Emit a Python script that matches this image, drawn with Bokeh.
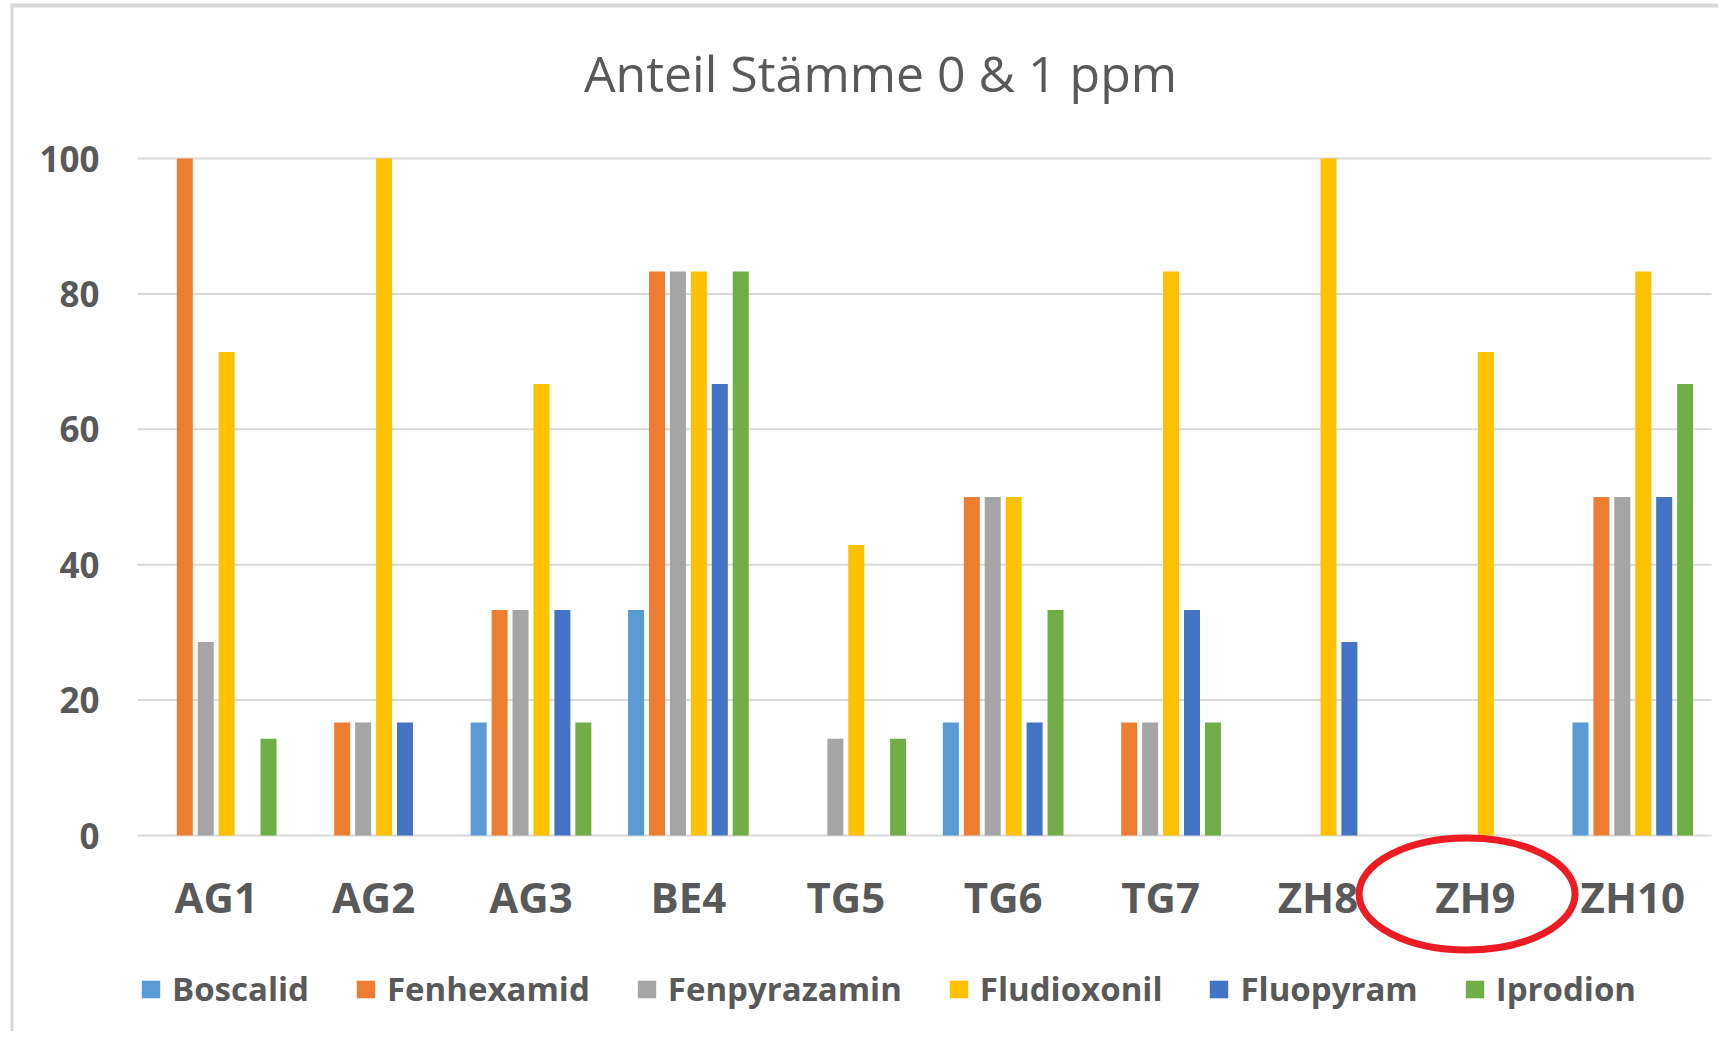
import numpy as np
from bokeh.plotting import figure
from bokeh.models import ColumnDataSource, Range1d, Legend, LegendItem
from bokeh.core.properties import value
from bokeh.embed import file_html
from bokeh.resources import INLINE

# ---- data ----
sites = ["AG1", "AG2", "AG3", "BE4", "TG5", "TG6", "TG7", "ZH8", "ZH9", "ZH10"]
series = ["Boscalid", "Fenhexamid", "Fenpyrazamin", "Fludioxonil", "Fluopyram", "Iprodion"]
boscalid     = [0, 0, 16.7, 33.3, 0, 16.7, 0, 0, 0, 16.7]
fenhexamid   = [100, 16.7, 33.3, 83.3, 0, 50, 16.7, 0, 0, 50]
fenpyrazamin = [28.6, 16.7, 33.3, 83.3, 14.3, 50, 16.7, 0, 0, 50]
fludioxonil  = [71.4, 100, 66.7, 83.3, 42.9, 50, 83.3, 100, 71.4, 83.3]
fluopyram    = [0, 16.7, 33.3, 66.7, 0, 16.7, 33.3, 28.6, 0, 50]
iprodion     = [14.3, 0, 16.7, 83.3, 14.3, 33.3, 16.7, 0, 0, 66.7]
y_ticks = [0, 20, 40, 60, 80, 100]
y_tick_labels = ["0", "20", "40", "60", "80", "100"]
title_text = "Anteil Stämme 0 & 1 ppm"
highlight = "ZH9"

colors = ["#5B9BD5", "#ED7D31", "#A5A5A5", "#FFC000", "#4472C4", "#70AD47"]
values = [boscalid, fenhexamid, fenpyrazamin, fludioxonil, fluopyram, iprodion]

# ---- layout geometry (pixels) ----
W, H = 1718, 1031
PX_X = 157.4          # pixels per category
PX_Y = 6.77           # pixels per y unit
LEFT, ZERO_Y, TOP_Y = 137, 835, 158

x_start = -LEFT / PX_X
x_end = (W - LEFT) / PX_X
y_start = -(H - ZERO_Y) / PX_Y
y_end = 100 + TOP_Y / PX_Y

p = figure(x_range=Range1d(x_start, x_end), y_range=Range1d(y_start, y_end),
           width=W, height=H, output_backend="svg", toolbar_location=None,
           x_axis_location=None, y_axis_location=None,
           min_border=0, min_border_left=0, min_border_right=0,
           min_border_top=0, min_border_bottom=0)
p.outline_line_color = None
p.background_fill_color = "white"
p.border_fill_color = "white"
p.xgrid.visible = False
p.ygrid.visible = False

n = len(sites)
centers = np.arange(n) + 0.5
FONT = value("Open Sans")
GRAY_TXT = "#595959"
GRID = "#D9D9D9"

# gridlines (including baseline)
p.segment(x0=[0] * len(y_ticks), x1=[n] * len(y_ticks), y0=y_ticks, y1=y_ticks,
          line_color=GRID, line_width=2)

# bars
pitch = 0.1330
bw = 0.1017
items = []
for i, (name, col, vals) in enumerate(zip(series, colors, values)):
    off = (i - 2.5) * pitch
    src = ColumnDataSource(dict(x=centers + off, top=vals))
    r = p.vbar(x="x", top="top", width=bw, source=src, fill_color=col, line_color=None)
    items.append(LegendItem(label=name, renderers=[r]))

# y tick labels
p.text(x=[0] * len(y_ticks), y=y_ticks, text=y_tick_labels, x_offset=-38,
       text_align="right", text_baseline="middle", text_font=FONT,
       text_font_style="bold", text_font_size="35px", text_color=GRAY_TXT)

# x category labels
p.text(x=centers, y=[0] * n, text=sites, y_offset=61, text_align="center",
       text_baseline="alphabetic", text_font=FONT, text_font_style="bold",
       text_font_size="42px", text_color=GRAY_TXT)

# title
p.text(x=[(880 - LEFT) / PX_X], y=[100], text=[title_text], y_offset=-86,
       text_align="center", text_baseline="alphabetic", text_font=FONT,
       text_font_style="normal", text_font_size="50px", text_color=GRAY_TXT)

# legend
legend = Legend(items=items, orientation="horizontal", location=(139, 20),
                glyph_width=23, glyph_height=22, label_standoff=10, spacing=45,
                padding=0, margin=0, border_line_color=None, background_fill_alpha=0,
                label_text_font="Open Sans", label_text_font_style="bold",
                label_text_font_size="33px", label_text_color=GRAY_TXT)
p.add_layout(legend, "center")

# red highlight ellipse around the ZH9 label
hx = sites.index(highlight) + 0.5 - 0.053
p.ellipse(x=[hx], y=[-(893.5 - ZERO_Y) / PX_Y], width=216 / PX_X, height=112 / PX_Y,
          fill_alpha=0, line_color="#ED1C24", line_width=7)

# light chart border (left and top edges of the chart area)
p.quad(left=[(10 - LEFT) / PX_X], right=[(13 - LEFT) / PX_X], bottom=[y_start],
       top=[100 + (TOP_Y - 3) / PX_Y], fill_color=GRID, line_color=None)
p.quad(left=[(10 - LEFT) / PX_X], right=[x_end], bottom=[100 + (TOP_Y - 7) / PX_Y],
       top=[100 + (TOP_Y - 3) / PX_Y], fill_color=GRID, line_color=None)

open("out.html", "w").write(file_html(p, INLINE))
